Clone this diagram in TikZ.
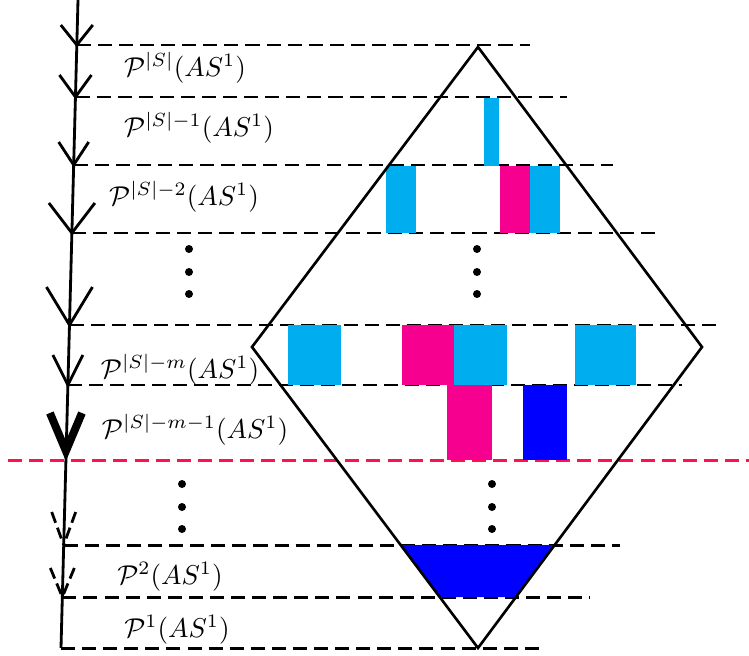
\documentclass[tikz,border=0pt]{standalone}
\usepackage{amsmath}
\usepackage{xcolor}
\usepackage{tikz}
\usetikzlibrary{calc}
\definecolor{slcyan}{HTML}{00AEEF}
\definecolor{slmag}{HTML}{F5008F}
\definecolor{slblue}{HTML}{0000FF}
\definecolor{cutred}{HTML}{FF1050}

\begin{document}
\begin{tikzpicture}[x=0.02cm, y=-0.02cm,
  lvl/.style={line width=1.7pt, dash pattern=on 8pt off 4pt},
  cut/.style={lvl, draw=cutred},
  spine/.style={line width=1.6pt},
  chev/.style={line width=1.6pt},
  dchev/.style={chev, dash pattern=on 6.5pt off 3pt},
  lbl/.style={inner sep=0pt, scale=1.55},
  dot/.style={fill=black}]
\useasboundingbox (0,0) rectangle (749,655);
% ---------------- spine and levels
\coordinate (top) at (78,0);
\coordinate (bot) at (61,648);
\foreach \n/\y in {1/45,2/97,3/165,4/233,5/325,6/385,7/460,8/545,9/597,10/648}
  \coordinate (l\n) at ($(top)!{\y/648}!(bot)$);
\foreach \n/\xe in {1/530,2/567,3/613,4/660,5/719,6/682,8/620,9/590,10/544}
  \draw[lvl] (l\n) -- (l\n -| \xe,0);
\coordinate (cutL) at (8,460);
\coordinate (cutR) at (749,460);
\draw[cut] (cutL) -- (cutR);
\draw[spine] (top) -- (bot);
% chevrons
\foreach \n/\w/\h in {1/16/20,2/16/22,3/15/23,4/23/30,5/23/38,6/15/30}
  \draw[chev] ($(l\n)+(-\w,-\h)$) -- (l\n) -- ($(l\n)+(\w,-\h)$);
\coordinate (tip) at ($(l7)+(0,-9)$);
\draw[chev, line width=4.5pt, miter limit=10] ($(tip)+(-16,-38)$) -- (tip) -- ($(tip)+(16,-38)$);
\foreach \n/\w/\h in {8/12/33,9/12/29} {
  \draw[dchev] ($(l\n)+(-\w,-\h)$) -- (l\n);
  \draw[dchev] ($(l\n)+(\w,-\h)$) -- (l\n);
}
% ---------------- labels
\node[lbl] (p1) at (185,68) {$\mathcal{P}^{|S|}(AS^1)$};
\node[lbl] (p2) at (199,128) {$\mathcal{P}^{|S|-1}(AS^1)$};
\node[lbl] (p3) at (184,197) {$\mathcal{P}^{|S|-2}(AS^1)$};
\node[lbl] (p4) at (180,370) {$\mathcal{P}^{|S|-m}(AS^1)$};
\node[lbl] (p5) at (195,430) {$\mathcal{P}^{|S|-m-1}(AS^1)$};
\node[lbl] (p6) at (170,577) {$\mathcal{P}^{2}(AS^1)$};
\node[lbl] (p7) at (177,630) {$\mathcal{P}^{1}(AS^1)$};
% vertical dots
\foreach \x/\y in {189/249,477/249,182/484,492/484}
  \foreach \d in {0,23,45} \fill[dot] (\x,\y+\d) circle (4);
% ---------------- blocks
\fill[slcyan] (484,98) rectangle (499,166);
\fill[slcyan] (386,166) rectangle (416,233);
\fill[slmag] (500,166) rectangle (530,233);
\fill[slcyan] (530,166) rectangle (560,233);
\fill[slcyan] (288,325) rectangle (341,385);
\fill[slmag] (402,325) rectangle (454,385);
\fill[slcyan] (454,325) rectangle (507,385);
\fill[slcyan] (575,325) rectangle (636,385);
\fill[slmag] (447,385) rectangle (492,460);
\fill[slblue] (523,385) rectangle (567,460);
% ---------------- diamond
\coordinate (dtop) at (478,47);
\coordinate (dright) at (702,347);
\coordinate (dbot) at (478,648);
\coordinate (dleft) at (252,347);
\fill[slblue] ($(dbot)!0.3422!(dleft)$) -- ($(dbot)!0.3422!(dright)$)
  -- ($(dbot)!0.1694!(dright)$) -- ($(dbot)!0.1694!(dleft)$) -- cycle;
\draw[line width=1.5pt] (dtop) -- (dright) -- (dbot) -- (dleft) -- cycle;
\end{tikzpicture}
\end{document}
